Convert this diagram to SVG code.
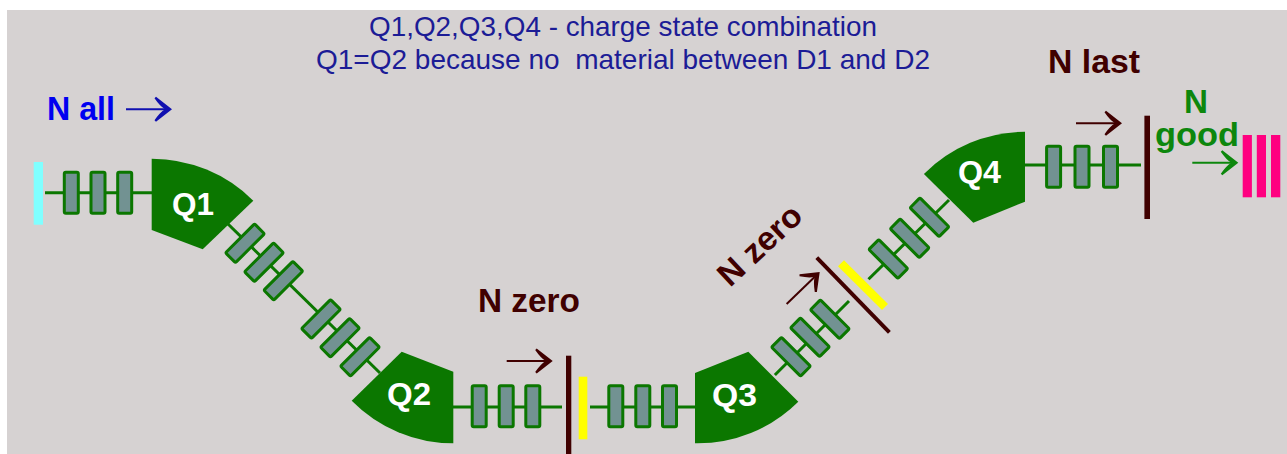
<svg xmlns="http://www.w3.org/2000/svg" width="1287" height="454" viewBox="0 0 1287 454">
<style>
.q{fill:#0b7700}
.ql{font:bold 32px "Liberation Sans",Arial,sans-serif;fill:#fff}
.l{stroke:#0b7700;stroke-width:3;fill:none}
.m{fill:#729292;stroke:#0b7700;stroke-width:3}
.t{font:28px "Liberation Sans",Arial,sans-serif;fill:#1c1c96;white-space:pre}
.b{font:bold 33px "Liberation Sans",Arial,sans-serif}
.dk{fill:#400000}
.s{fill:none;stroke:currentColor;stroke-width:2}
.h{fill:currentColor}
</style>
<defs>
<g id="arrow"><path class="s" d="M-45 0H-4"/><path class="h" d="M1 0L-15-12.5L-16.5-11Q-11-3-6 0Q-11 3-16.5 11L-15 12.5Z"/></g>
<rect id="mag" class="m" x="-7" y="-20.5" width="14" height="41" rx="1.5"/>
</defs>
<rect width="1287" height="454" fill="#fff"/>
<rect x="7" y="10" width="1280" height="444" fill="#d6d2d2"/>
<g id="connectors">
<path class="l" d="M45 192.7H152"/>
<path class="l" d="M228 224L380 373"/>
<path class="l" d="M453 407H562"/>
<path class="l" d="M590 407H695"/>
<path class="l" d="M774.9 375L849 301"/>
<path class="l" d="M868.5 279.3L949 200"/>
<path class="l" d="M1025 165H1141"/>
</g>
<g id="start-detector"><rect x="33.7" y="162" width="9.3" height="62.7" fill="#80ffff"/></g>
<g id="Q1"><path class="q" d="M151.7 158.7A143.7 143.7 0 0 1 253.3 200.7L202.7 249.3L151.7 230Z"/><text class="ql" x="172" y="215" textLength="42" lengthAdjust="spacingAndGlyphs">Q1</text></g>
<g id="Q2"><path class="q" d="M453.3 443.3A143 143 0 0 1 351.7 400.7L401.7 351.7L453.3 371.7Z"/><text class="ql" x="387" y="405" textLength="44" lengthAdjust="spacingAndGlyphs">Q2</text></g>
<g id="Q3"><path class="q" d="M695 443.3A143 143 0 0 0 798.3 401.7L748.3 351.7L695 373Z"/><text class="ql" x="712" y="406" textLength="45" lengthAdjust="spacingAndGlyphs">Q3</text></g>
<g id="Q4"><path class="q" d="M1025 131.7A143 143 0 0 0 923.9 174L973.3 222.7L1025 201.7Z"/><text class="ql" x="958" y="183" textLength="43" lengthAdjust="spacingAndGlyphs">Q4</text></g>
<g id="magnets-1">
<use href="#mag" x="71.3" y="192.8"/><use href="#mag" x="98" y="192.8"/><use href="#mag" x="124.7" y="192.8"/>
</g>
<g id="magnets-2">
<use href="#mag" transform="translate(245 243.3) rotate(45)"/><use href="#mag" transform="translate(264 262.3) rotate(45)"/><use href="#mag" transform="translate(283.3 280.7) rotate(45)"/>
<use href="#mag" transform="translate(321 319) rotate(45)"/><use href="#mag" transform="translate(340 337.7) rotate(45)"/><use href="#mag" transform="translate(360 356.7) rotate(45)"/>
</g>
<g id="magnets-3">
<use href="#mag" x="479.2" y="406.3"/><use href="#mag" x="506.2" y="406.3"/><use href="#mag" x="532.8" y="406.3"/>
<use href="#mag" x="615.8" y="406.3"/><use href="#mag" x="642.8" y="406.3"/><use href="#mag" x="669.5" y="406.3"/>
</g>
<g id="magnets-4">
<use href="#mag" transform="translate(791 356.7) rotate(-45)"/><use href="#mag" transform="translate(810 337.3) rotate(-45)"/><use href="#mag" transform="translate(829.9 319.3) rotate(-45)"/>
<use href="#mag" transform="translate(888.3 259) rotate(-45)"/><use href="#mag" transform="translate(909.7 238.3) rotate(-45)"/><use href="#mag" transform="translate(929.5 217.3) rotate(-45)"/>
</g>
<g id="magnets-5">
<use href="#mag" x="1053.6" y="166.7"/><use href="#mag" x="1082" y="166.7"/><use href="#mag" x="1110.5" y="166.7"/>
</g>
<g id="detector-bottom">
<rect class="dk" x="566" y="355.7" width="5.3" height="98.3"/>
<rect x="578.7" y="376.7" width="8.6" height="62.6" fill="#ffff00"/>
</g>
<g id="detector-diagonal">
<path d="M841 263.3L885 307" stroke="#ffff00" stroke-width="8.5" fill="none"/>
<path d="M816.8 257.7L889.4 332.3" stroke="#400000" stroke-width="4" fill="none"/>
</g>
<g id="detector-top"><rect class="dk" x="1144.4" y="115.7" width="5.6" height="103.3"/></g>
<g id="end-detector" fill="#ff0080">
<rect x="1242.7" y="135" width="9.2" height="62.3"/><rect x="1256.8" y="135" width="9.2" height="62.3"/><rect x="1271" y="135" width="9.3" height="62.3"/>
</g>
<g id="arrows">
<use href="#arrow" transform="translate(171 109.3)" style="color:#1010b0"/>
<use href="#arrow" transform="translate(551.7 361)" style="color:#400000"/>
<use href="#arrow" transform="translate(819 272.7) rotate(-44)" style="color:#400000"/>
<use href="#arrow" transform="translate(1121 123.3)" style="color:#400000"/>
<use href="#arrow" transform="translate(1237.3 162.7)" style="color:#0d870d"/>
</g>
<g id="labels">
<text class="t" x="369" y="36" textLength="508" lengthAdjust="spacingAndGlyphs">Q1,Q2,Q3,Q4 - charge state combination</text>
<text class="t" x="316" y="69" textLength="614" lengthAdjust="spacingAndGlyphs">Q1=Q2 because no  material between D1 and D2</text>
<text class="b" x="47" y="120" fill="#0000f0" textLength="68" lengthAdjust="spacingAndGlyphs">N all</text>
<text class="b" x="478" y="312" fill="#400000" textLength="102" lengthAdjust="spacingAndGlyphs">N zero</text>
<text class="b" x="1048" y="73" fill="#400000" textLength="92" lengthAdjust="spacingAndGlyphs">N last</text>
<text class="b" transform="translate(730 288) rotate(-43)" fill="#400000" textLength="102" lengthAdjust="spacingAndGlyphs">N zero</text>
<text class="b" x="1184" y="113" fill="#0d870d" textLength="24" lengthAdjust="spacingAndGlyphs">N</text>
<text class="b" x="1155" y="146" fill="#0d870d" textLength="84" lengthAdjust="spacingAndGlyphs">good</text>
</g>
</svg>
